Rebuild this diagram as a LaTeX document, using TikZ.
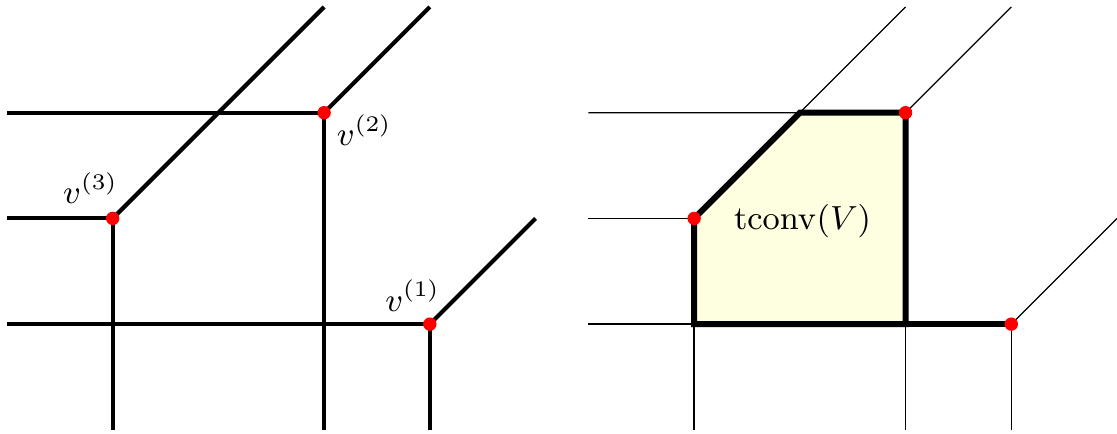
\documentclass[tikz,border=0pt]{standalone}
\usepackage{amsmath}
\usetikzlibrary{calc,positioning}
\definecolor{hullyellow}{HTML}{FEFEE0}
\definecolor{vertred}{HTML}{FF0000}

\begin{document}
\begin{tikzpicture}[
    line/.style={line width=1.1pt},
    thinline/.style={line width=0.35pt},
    hull/.style={line width=1.6pt},
    vert/.style={circle, fill=vertred, inner sep=0pt, minimum size=3.6pt},
    lbl/.style={font=\fontsize{8.7}{10}\selectfont, inner sep=0pt}
  ]
  \useasboundingbox (-0.066,-0.03) rectangle (10.5,4.066);

  % Left: three tropical lines
  \coordinate (v1) at (4,1);
  \coordinate (v2) at (3,3);
  \coordinate (v3) at (1,2);
  \draw[line] (0,1) -- (v1) -- (4,0);
  \draw[line] (v1) -- (5,2);
  \draw[line] (0,3) -- (v2) -- (3,0);
  \draw[line] (v2) -- (4,4);
  \draw[line] (0,2) -- (v3) -- (1,0);
  \draw[line] (v3) -- (3,4);
  \node[vert] (p1) at (v1) {};
  \node[vert] (p2) at (v2) {};
  \node[vert] (p3) at (v3) {};
  \node[lbl, anchor=base east] (l1) at ($(v1)+(0.104,0.123)$) {$v^{(1)}$};
  \node[lbl, anchor=base west] (l2) at ($(v2)+(0.114,-0.312)$) {$v^{(2)}$};
  \node[lbl, anchor=base east] (l3) at ($(v3)+(0.057,0.142)$) {$v^{(3)}$};

  % Right: tropical convex hull
  \begin{scope}[xshift=5.5cm]
    \coordinate (w1) at (4,1);
    \coordinate (w2) at (3,3);
    \coordinate (w3) at (1,2);
    \coordinate (c1) at (2,3);
    \coordinate (c2) at (3,1);
    \coordinate (c3) at (1,1);
    \fill[hullyellow] (w3) -- (c1) -- (w2) -- (c2) -- (c3) -- cycle;
    \draw[thinline] (0,2) -- (w3);
    \draw[thinline] (0,3) -- (c1) -- (3,4);
    \draw[thinline] (0,1) -- (c3) -- (1,0);
    \draw[thinline] (c2) -- (3,0);
    \draw[thinline] (w1) -- (4,0);
    \draw[thinline] (w2) -- (4,4);
    \draw[thinline] (w1) -- (5,2);
    \draw[hull] (w3) -- (c1) -- (w2) -- (c2) -- (c3) -- cycle;
    \draw[hull] (c2) -- (w1);
    \node[vert] (q1) at (w1) {};
    \node[vert] (q2) at (w2) {};
    \node[vert] (q3) at (w3) {};
    \node[lbl, font=\fontsize{9.1}{11}\selectfont, anchor=base] (hl) at (2.026,1.894) {$\operatorname{tconv}(V)$};
  \end{scope}
\end{tikzpicture}
\end{document}
